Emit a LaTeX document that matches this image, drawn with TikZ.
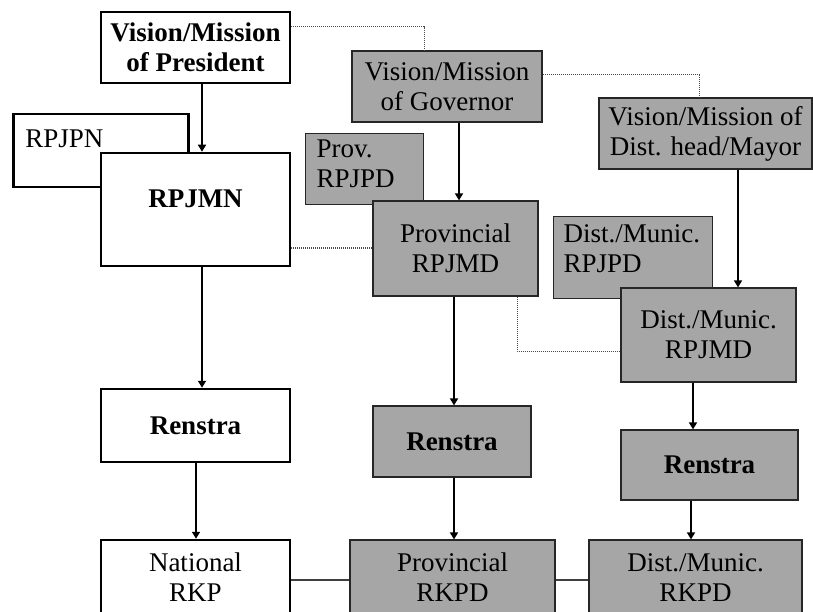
\documentclass[tikz,border=0pt]{standalone}
\usepackage{fontspec}
\setmainfont{Liberation Serif}
\usetikzlibrary{arrows.meta}
\definecolor{boxgray}{RGB}{166,166,166}

\begin{document}
\begin{tikzpicture}[x=1pt,y=-1pt,>={Triangle[width=8pt,length=7pt]},
  every node/.style={font=\fontsize{27}{30}\selectfont,inner sep=0pt,align=center},
  bold/.style={font=\fontsize{27}{30}\selectfont\bfseries},
  wbox/.style={draw,line width=2.5pt,fill=white},
  gbox/.style={draw=black!85,line width=1.2pt,fill=boxgray},
  conn/.style={line width=1.6pt},
  dots/.style={draw=black!70,line width=1pt,dash pattern=on 1pt off 1pt}]
\clip (0,0) rectangle (813,612);

\node[wbox,bold,minimum width=189pt,minimum height=71pt] (pres) at (195.5,47.5) {Vision/Mission\\of President};
\node[wbox,anchor=north west,align=left,text width=151pt,inner xsep=12pt,text height=33pt,text depth=40pt] (rpjpn) at (12,113) {RPJPN};
\node[wbox,bold,minimum width=189pt,minimum height=113pt,text height=18pt,text depth=21pt] (rpjmn) at (195.5,209.5) {RPJMN};
\node[wbox,bold,minimum width=189pt,minimum height=73pt] (nren) at (195.5,425.5) {Renstra};
\node[wbox,minimum width=189pt,minimum height=75pt] (nrkp) at (195.5,577.5) {National\\RKP};

\node[gbox,minimum width=190pt,minimum height=71pt] (gov) at (447,86.5) {Vision/Mission\\of Governor};
\node[gbox,anchor=north west,align=left,text width=96pt,inner xsep=11pt,text height=24pt,text depth=47pt] (prpjpd) at (305,133) {Prov.\\RPJPD};
\node[gbox,minimum width=165pt,minimum height=95pt] (prpjmd) at (455.5,248.5) {Provincial\\RPJMD};
\node[gbox,bold,minimum width=158pt,minimum height=71pt] (pren) at (452,441.5) {Renstra};
\node[gbox,minimum width=205pt,minimum height=75pt] (prkpd) at (452.5,577.5) {Provincial\\RKPD};

\node[gbox,minimum width=213pt,minimum height=71pt] (mayor) at (705.5,133.5) {Vision/Mission of\\Dist. head/Mayor};
\node[gbox,anchor=north west,align=left,text width=139pt,inner xsep=10pt,text height=26pt,text depth=56pt] (drpjpd) at (553,216) {Dist./Munic.\\RPJPD};
\node[gbox,minimum width=175pt,minimum height=94pt] (drpjmd) at (708.5,335) {Dist./Munic.\\RPJMD};
\node[gbox,bold,minimum width=177pt,minimum height=70pt] (dren) at (709.5,465) {Renstra};
\node[gbox,minimum width=213pt,minimum height=75pt] (drkpd) at (695.5,577.5) {Dist./Munic.\\RKPD};

\draw[conn,->] (pres.south -| 202,0) -- (rpjmn.north -| 202,0);
\draw[conn,->] (rpjmn.south -| 202,0) -- (nren.north -| 202,0);
\draw[conn,->] (nren.south -| 196,0) -- (nrkp.north -| 196,0);
\draw[conn,->] (gov.south -| 459,0) -- (prpjmd.north -| 459,0);
\draw[conn,->] (prpjmd.south -| 454,0) -- (pren.north -| 454,0);
\draw[conn,->] (pren.south -| 454,0) -- (prkpd.north -| 454,0);
\draw[conn,->] (mayor.south -| 738,0) -- (drpjmd.north -| 738,0);
\draw[conn,->] (drpjmd.south -| 693,0) -- (dren.north -| 693,0);
\draw[conn,->] (dren.south -| 691,0) -- (drkpd.north -| 691,0);

\draw[dots] (pres.east |- 0,27) -| (gov.north -| 424,0);
\draw[dots] (gov.east |- 0,75) -| (mayor.north -| 699,0);
\draw[dots] (rpjmn.east |- 0,248) -- (prpjmd.west |- 0,248);
\draw[dots] (prpjmd.south -| 517,0) |- (drpjmd.west |- 0,351);

\draw[line width=1.2pt,black!75] (nrkp.east |- 0,580) -- (prkpd.west |- 0,580);
\draw[line width=1.2pt,black!75] (prkpd.east |- 0,580) -- (drkpd.west |- 0,580);
\end{tikzpicture}
\end{document}
